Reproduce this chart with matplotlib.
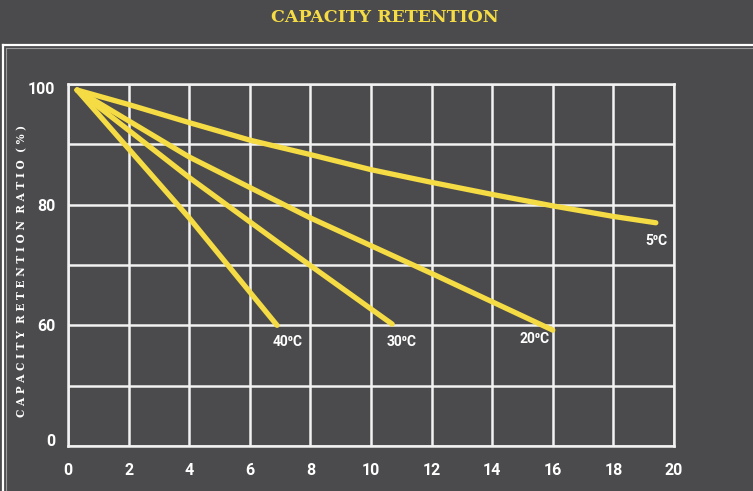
import matplotlib.pyplot as plt
from matplotlib.lines import Line2D
from matplotlib.transforms import ScaledTranslation

plt.rcParams['font.family'] = ['Roboto', 'DejaVu Sans']

BG = '#4b4b4d'
YELLOW = '#f5dc45'

# capacity retention curves
x_5c = [0.3, 2, 4, 6, 8, 10, 12, 14, 16, 18, 19.4]
y_5c = [99, 96.6, 93.6, 90.7, 88.3, 85.8, 83.7, 81.7, 79.8, 78.05, 77]
x_20c = [0.3, 4, 8, 12, 16]
y_20c = [99, 87.9, 77.8, 68.6, 59.2]
x_30c = [0.3, 4, 7, 10.7]
y_30c = [99, 84.5, 73.5, 60.2]
x_40c = [0.3, 4, 6.9]
y_40c = [99, 77.8, 60]

curve_labels = ['5⁰C', '20⁰C', '30⁰C', '40⁰C']
label_pos = [(19.42, 74.0), (15.4, 57.75), (11.02, 57.25), (7.26, 57.3)]

x_ticks = list(range(0, 21, 2))
y_ticks = [40, 50, 60, 70, 80, 90, 100]
y_ticklabels = ['0', '', '60', '', '80', '', '100']

fig = plt.figure(figsize=(7.53, 4.91), dpi=100, facecolor=BG)
ax = fig.add_axes([68 / 753, 1 - 446 / 491, 606 / 753, 362 / 491])
ax.set_facecolor(BG)

for xs, ys in [(x_5c, y_5c), (x_20c, y_20c), (x_30c, y_30c), (x_40c, y_40c)]:
    ax.plot(xs, ys, color=YELLOW, lw=3.8, solid_capstyle='round',
            solid_joinstyle='round', zorder=3)

for lab, (lx, ly) in zip(curve_labels, label_pos):
    ax.text(lx, ly, lab, color='white', fontsize=10, fontweight='bold',
            ha='center', va='center', zorder=4)

ax.set_xlim(0, 20)
ax.set_ylim(40, 100)
ax.set_xticks(x_ticks)
ax.set_yticks(y_ticks)
ax.set_yticklabels(y_ticklabels)
ax.grid(True, color='#f2f2f2', lw=1.8)
ax.set_axisbelow(True)
for s in ax.spines.values():
    s.set_color('#f2f2f2')
    s.set_linewidth(1.8)
ax.tick_params(length=0, colors='white', labelsize=11.5)
ax.tick_params(axis='x', pad=12)
ax.tick_params(axis='y', pad=9)
for t in ax.get_xticklabels() + ax.get_yticklabels():
    t.set_fontweight('bold')

# nudge the end labels of the y axis like in the original
ylabs = ax.get_yticklabels()
ylabs[0].set_transform(ylabs[0].get_transform() + ScaledTranslation(0, 6 / 100, fig.dpi_scale_trans))
ylabs[-1].set_transform(ylabs[-1].get_transform() + ScaledTranslation(0, -4 / 100, fig.dpi_scale_trans))

ylab = '  '.join(' '.join(w) for w in 'CAPACITY RETENTION RATIO (%)'.split())
fig.text(22 / 753, 1 - 271 / 491, ylab, rotation=90, color='white',
         fontsize=7.6, fontweight='bold', family=['DejaVu Serif'],
         ha='center', va='center')

fig.text(385 / 753, 1 - 18 / 491, 'CAPACITY RETENTION', color=YELLOW,
         fontsize=12.5, fontweight='bold', family=['DejaVu Serif'],
         ha='center', va='center')

# outer frame
ytop = 1 - 44.5 / 491
xl = 2.5 / 753
fig.add_artist(Line2D([xl, 1.01], [ytop, ytop], color='white', lw=1.6, transform=fig.transFigure))
fig.add_artist(Line2D([xl, xl], [-0.01, ytop], color='white', lw=1.6, transform=fig.transFigure))
yin = 1 - 48 / 491
xin = 6.5 / 753
fig.add_artist(Line2D([xin, 1.01], [yin, yin], color='#9a9a9a', lw=0.8, transform=fig.transFigure))
fig.add_artist(Line2D([xin, xin], [-0.01, yin], color='#9a9a9a', lw=0.8, transform=fig.transFigure))

fig.savefig('out.png', dpi=100, facecolor=BG)
